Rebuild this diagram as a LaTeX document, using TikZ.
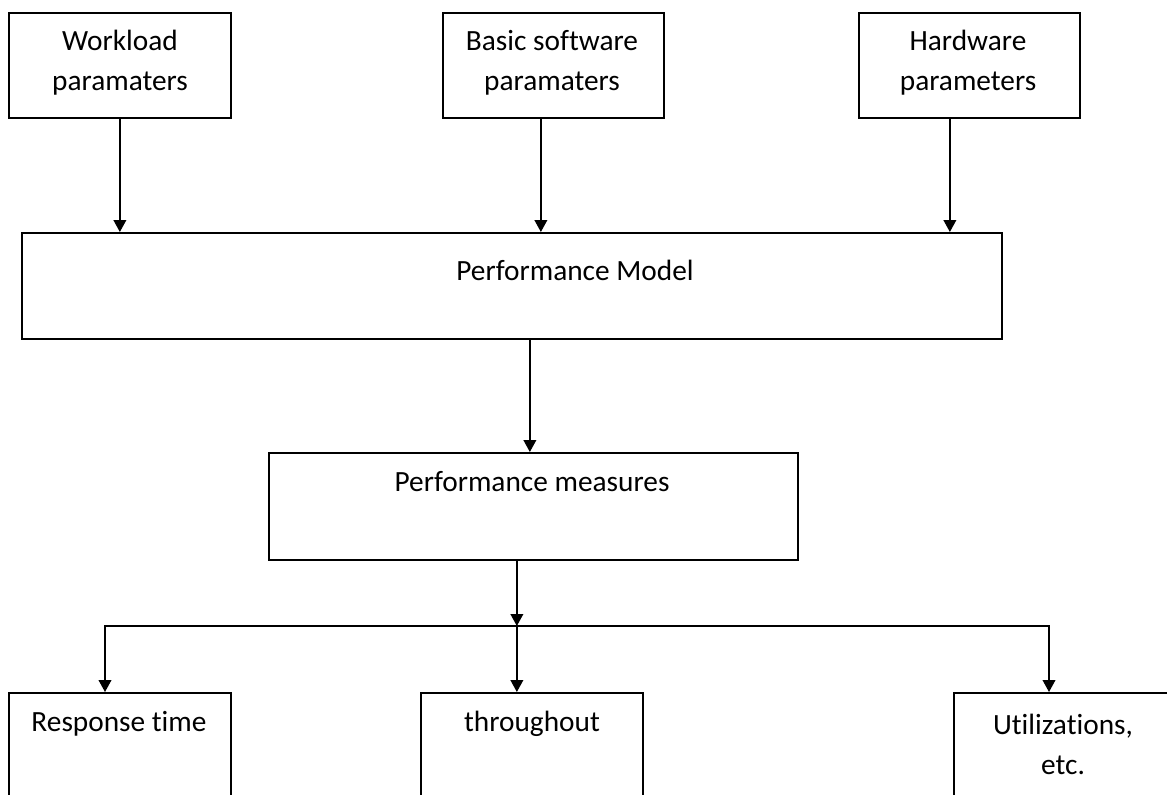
\documentclass[tikz,border=0pt]{standalone}
\usepackage{fontspec}
\setmainfont{Carlito}[Ligatures={NoCommon}]
\usetikzlibrary{arrows.meta,calc}
\newdimen\pxu
\pxu=0.75pt
% keep "t" and "i" as separate glyphs
\newcommand{\tsep}{t\kern0pt }
\begin{document}
\begin{tikzpicture}[
  x=0.75pt, y=-0.75pt,
  box/.style={draw, line width=1.3pt, inner sep=0pt, anchor=north west},
  lbl/.style={font=\fontsize{22}{30}\selectfont, align=center, inner sep=0pt},
  arr/.style={-{Triangle[length=9pt,width=9.5pt]}, line width=1.3pt}
]
\path[use as bounding box] (0,0) rectangle (1167,794);
\clip (0,0) rectangle (1167,794);

% input parameter boxes
\node[box, minimum width=222\pxu, minimum height=105\pxu] (wl) at (8,12) {};
\node[box, minimum width=221\pxu, minimum height=105\pxu] (bs) at (442,12) {};
\node[box, minimum width=221\pxu, minimum height=105\pxu] (hw) at (858,12) {};
\node[lbl] (wlt) at (120,63) {Workload\\paramaters};
\node[lbl] (bst) at (552,63) {Basic software\\paramaters};
\node[lbl] (hwt) at (968,63) {Hardware\\parameters};

% model and measures
\node[box, minimum width=980\pxu, minimum height=106\pxu] (pm) at (21,232) {};
\node[lbl] (pmt) at (575,270) {Performance Model};
\node[box, minimum width=529\pxu, minimum height=107\pxu] (pms) at (268,452) {};
\node[lbl] (pmst) at (532,482) {Performance measures};

% output boxes (run past the lower edge)
\node[box, minimum width=222\pxu, minimum height=140\pxu] (rt) at (8,692) {};
\node[box, minimum width=222\pxu, minimum height=140\pxu] (tp) at (420,692) {};
\node[box, minimum width=230\pxu, minimum height=140\pxu] (ut) at (953,692) {};
\node[lbl] (rtt) at (119,724) {Response \tsep ime};
\node[lbl] (tpt) at (532,724) {throughout};
\node[lbl] (utt) at (1063,744) {Utiliza\tsep ions,\\etc.};

% connectors from the inputs into the model
\coordinate (o1) at ($(bs.south)+(-12.5,0)$);
\coordinate (o2) at ($(hw.south)+(-19.5,0)$);
\draw[arr] (wl.south) -- (wl.south |- pm.north);
\draw[arr] (o1) -- (o1 |- pm.north);
\draw[arr] (o2) -- (o2 |- pm.north);

% model to measures
\coordinate (o3) at ($(pm.south)+(18,0)$);
\draw[arr] (o3) -- (o3 |- pms.north);

% measures fanning out to the outputs
\coordinate (o4) at ($(pms.south)+(-16.5,0)$);
\coordinate (jn) at (o4 |- 0,626);
\coordinate (jl) at (105,626);
\coordinate (jr) at (1049,626);
\draw[arr] (o4) -- (jn);
\draw[arr, line join=miter] (jn) -- (jl) -- (jl |- rt.north);
\draw[arr, line join=miter] (jn) -- (jr) -- (jr |- ut.north);
\draw[arr] (jn) -- (jn |- tp.north);
\end{tikzpicture}
\end{document}
